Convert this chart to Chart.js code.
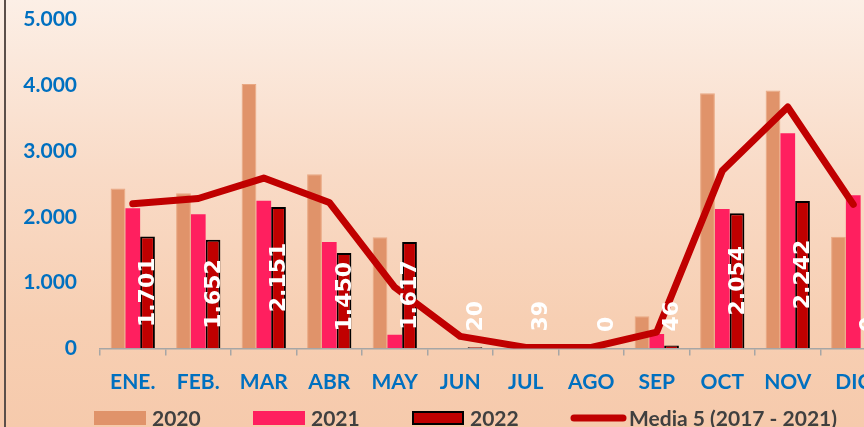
<!DOCTYPE html>
<html>
<head>
<meta charset="utf-8">
<script src="https://cdn.jsdelivr.net/npm/chart.js@4/dist/chart.umd.min.js"></script>
<style>
  html, body { margin: 0; padding: 0; }
  body {
    width: 864px; height: 427px; overflow: hidden; position: relative;
    background: linear-gradient(to bottom, #fcefe6 0%, #f9dbc7 40%, #f7cfb3 75%, #f6caac 100%);
  }
  #frame { position: absolute; left: 4px; top: 0; width: 2px; height: 427px; background: #5b4f4a; }
  #wrap { position: absolute; left: 0; top: 0; width: 900px; height: 427px; }
</style>
</head>
<body>
<div id="frame"></div>
<div id="wrap"><canvas id="chart" width="900" height="427"></canvas></div>
<script>
const months = ['ENE.', 'FEB.', 'MAR', 'ABR', 'MAY', 'JUN', 'JUL', 'AGO', 'SEP', 'OCT', 'NOV', 'DIC'];
const casos2020 = [2430, 2360, 4020, 2650, 1690, 0, 0, 0, 490, 3880, 3920, 1700];
const casos2021 = [2130, 2040, 2245, 1620, 210, 0, 0, 0, 220, 2120, 3270, 2330];
const casos2022 = [1701, 1652, 2151, 1450, 1617, 20, 39, 0, 46, 2054, 2242, 0];
const media5 = [2200, 2280, 2590, 2220, 930, 185, 15, 15, 250, 2700, 3670, 2190];
const yTicks = [0, 1000, 2000, 3000, 4000, 5000];

const FONT = 'Lato, "Open Sans", sans-serif';

function fmt(n) {
  return String(n).replace(/\B(?=(\d{3})+(?!\d))/g, '.');
}

// vertical white value labels on the 2022 bars
const barLabels = {
  id: 'barLabels',
  afterDatasetsDraw(chart) {
    const meta = chart.getDatasetMeta(2);
    const ctx = chart.ctx;
    ctx.save();
    ctx.font = 'bold 22px "DejaVu Sans", sans-serif';
    ctx.fillStyle = '#ffffff';
    ctx.textAlign = 'center';
    ctx.textBaseline = 'middle';
    meta.data.forEach((bar, i) => {
      const text = fmt(casos2022[i]);
      const w = ctx.measureText(text).width;
      let cy = (bar.y + bar.base) / 2;
      cy = Math.min(cy, bar.base - 16.5 - w / 2);
      ctx.save();
      ctx.translate(bar.x + 1, cy);
      ctx.rotate(-Math.PI / 2);
      ctx.fillText(text, 0, 0);
      ctx.restore();
    });
    ctx.restore();
  }
};

// legend row along the bottom edge
const bottomLegend = {
  id: 'bottomLegend',
  afterDraw(chart) {
    const ctx = chart.ctx;
    const y = 418;
    ctx.save();
    ctx.font = 'bold 21px ' + FONT;
    ctx.textBaseline = 'middle';
    ctx.textAlign = 'left';
    chart.data.datasets.forEach((ds, i) => {
      const x = 94 + i * 159;
      if (ds.type === 'line') {
        ctx.strokeStyle = ds.borderColor;
        ctx.lineWidth = 7;
        ctx.lineCap = 'round';
        ctx.beginPath();
        ctx.moveTo(x + 3, y);
        ctx.lineTo(x + 52, y);
        ctx.stroke();
      } else {
        ctx.fillStyle = ds.backgroundColor;
        ctx.fillRect(x, y - 7, 52, 14);
        if (ds.borderColor === '#000000') {
          ctx.strokeStyle = '#000000';
          ctx.lineWidth = 2;
          ctx.strokeRect(x + 1, y - 6, 50, 12);
        }
      }
      ctx.fillStyle = '#404040';
      ctx.fillText(ds.label, x + 58, y + 1);
    });
    ctx.restore();
  }
};

new Chart(document.getElementById('chart'), {
  data: {
    labels: months,
    datasets: [
      { type: 'bar', label: '2020', data: casos2020, backgroundColor: '#e0936a', borderColor: '#e9a883', borderWidth: 1, order: 1 },
      { type: 'bar', label: '2021', data: casos2021, backgroundColor: '#ff1f5f', borderWidth: 0, order: 1 },
      { type: 'bar', label: '2022', data: casos2022, backgroundColor: '#c00000', borderColor: '#000000', borderWidth: 2, order: 1 },
      {
        type: 'line', label: 'Media 5 (2017 - 2021)', data: media5,
        borderColor: '#c00000', borderWidth: 7, pointRadius: 0, tension: 0,
        borderJoinStyle: 'round', borderCapStyle: 'round', order: 0
      }
    ]
  },
  options: {
    responsive: false,
    animation: false,
    layout: { padding: { top: 19.5, right: 14, left: 0, bottom: 0 } },
    datasets: { bar: { barPercentage: 1, categoryPercentage: 0.676 } },
    plugins: { legend: { display: false }, tooltip: { enabled: false } },
    scales: {
      x: {
        offset: true,
        grid: { display: true, drawOnChartArea: false, drawTicks: true, tickLength: 7, color: '#a6a6a6', lineWidth: 1.5, offset: true },
        border: { display: true, color: '#a6a6a6', width: 1.5 },
        ticks: { color: '#0070c0', font: { family: FONT, size: 21, weight: 'bold' }, padding: 14, maxRotation: 0, autoSkip: false },
        afterFit(scale) { scale.height = 78.5; }
      },
      y: {
        min: yTicks[0],
        max: yTicks[yTicks.length - 1],
        // invisible tick marks keep the labels clear of the plot
        grid: { display: true, drawOnChartArea: false, drawTicks: true, tickLength: 23, color: 'rgba(0,0,0,0)' },
        border: { display: false },
        ticks: {
          stepSize: yTicks[1] - yTicks[0],
          color: '#0070c0',
          font: { family: FONT, size: 21, weight: 'bold' },
          padding: 0,
          callback: (v) => fmt(v)
        },
        afterFit(scale) { scale.width = 100; }
      }
    }
  },
  plugins: [barLabels, bottomLegend]
});
</script>
</body>
</html>
